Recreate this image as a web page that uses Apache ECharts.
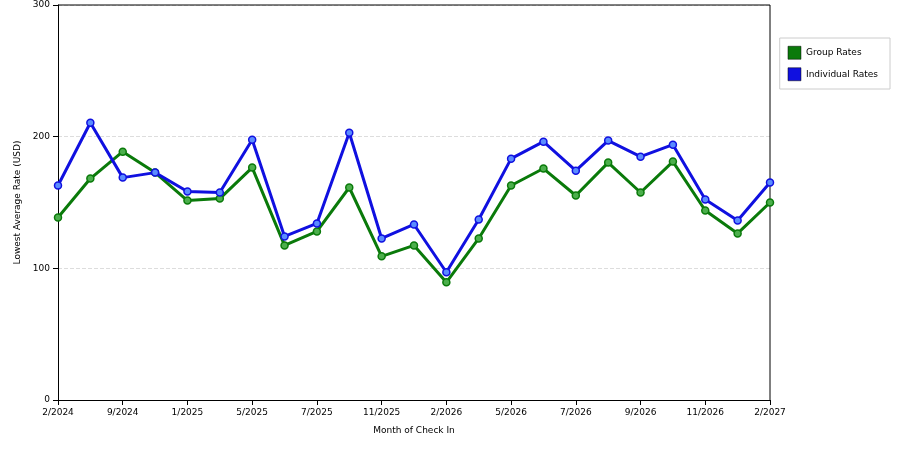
<!DOCTYPE html>
<html><head><meta charset="utf-8">
<script src="https://cdn.jsdelivr.net/npm/echarts@6/dist/echarts.min.js"></script>
<style>body{margin:0}#c{width:900px;height:450px}</style></head>
<body><div id="c"></div>
<script>
const categories=["2/2024","5/2024","9/2024","10/2024","1/2025","3/2025","5/2025","6/2025","7/2025","10/2025","11/2025","12/2025","2/2026","3/2026","5/2026","6/2026","7/2026","8/2026","9/2026","10/2026","11/2026","12/2026","2/2027"];
const groupRates=[138.6,168.2,188.6,172.7,151.5,153,176.5,117.4,128,161.4,109.1,117.4,89.4,122.7,162.9,175.8,155.3,180.3,157.6,181.1,143.9,126.5,150];
const individualRates=[162.9,210.6,168.9,172.7,158.3,157.6,197.7,124.2,134.1,203,122.7,133.3,97,137.1,183.3,196.2,174.2,197,184.8,193.9,152.3,136.4,165.2];
const yTicks=[0,100,200,300];
const ch=echarts.init(document.getElementById('c'));
const ser=(name,data,color,fill)=>({name,type:'line',data,symbol:'circle',symbolSize:7,
 lineStyle:{color,width:3},itemStyle:{color:fill,borderColor:color,borderWidth:1.5},color});
ch.setOption({animation:false,
 textStyle:{fontFamily:'DejaVu Sans'},
 grid:{left:58,right:130,top:5,bottom:50},
 legend:{orient:'vertical',right:10,top:38,itemWidth:13,itemHeight:13,itemGap:8,
  borderColor:'#ccc',borderWidth:1,padding:[8,12,8,8],textStyle:{fontSize:9,color:'#000'},
  data:[{name:'Group Rates',icon:'rect',itemStyle:{color:'#0a7a0a',borderColor:'#000',borderWidth:0.5}},
        {name:'Individual Rates',icon:'rect',itemStyle:{color:'#1010e0',borderColor:'#000',borderWidth:0.5}}]},
 xAxis:{type:'category',boundaryGap:false,data:categories,name:'Month of Check In',nameLocation:'middle',nameGap:26,
  nameTextStyle:{fontSize:9,color:'#000'},
  axisLine:{lineStyle:{color:'#000'}},axisTick:{interval:1,lineStyle:{color:'#000'}},
  axisLabel:{interval:1,fontSize:9,color:'#000'},splitLine:{show:false}},
 yAxis:{type:'value',min:yTicks[0],max:yTicks[yTicks.length-1],interval:100,name:'Lowest Average Rate (USD)',
  nameLocation:'middle',nameGap:36,nameTextStyle:{fontSize:9,color:'#000'},
  axisLine:{show:true,lineStyle:{color:'#000'}},axisTick:{show:true,lineStyle:{color:'#000'}},
  axisLabel:{fontSize:9,color:'#000'},splitLine:{lineStyle:{color:'#ddd',type:'dashed'}}},
 series:[ser('Group Rates',groupRates,'#0a7a0a','#4caf4c'),ser('Individual Rates',individualRates,'#1010e0','#5a8cff')]
});
// right border line of plot
ch.setOption({graphic:[{type:'line',shape:{x1:770,y1:5,x2:770,y2:400},style:{stroke:'#000',lineWidth:1}},
 {type:'line',shape:{x1:58,y1:5,x2:770,y2:5},style:{stroke:'#000',lineWidth:1}}]});
</script></body></html>
